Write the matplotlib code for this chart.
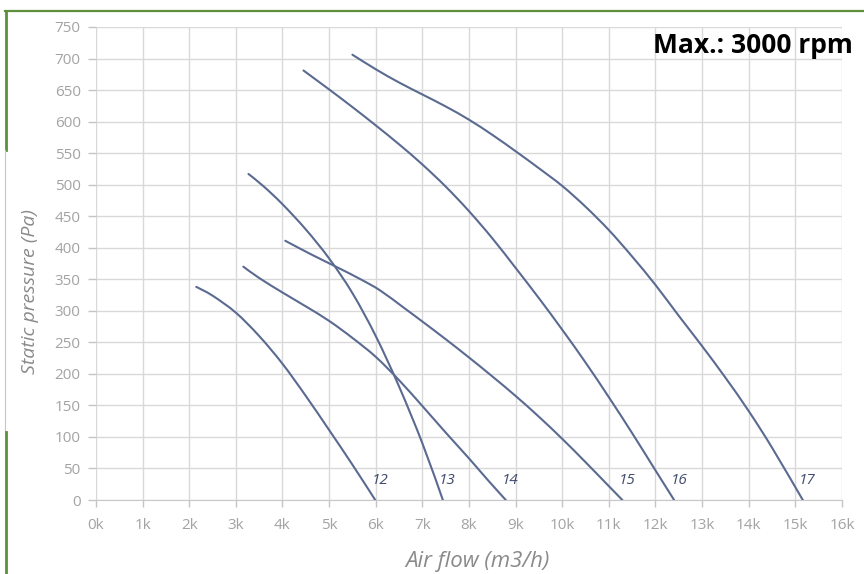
import matplotlib
matplotlib.use("Agg")
import numpy as np
import matplotlib.pyplot as plt
from matplotlib.lines import Line2D
from matplotlib.path import Path
from matplotlib.patches import PathPatch

# DATA (air flow in k m3/h, static pressure in Pa)
curve_names = ["12", "13", "14", "15", "16", "17"]

flow_12 = [2.15, 2.5, 3.0, 3.5, 4.0, 4.5, 5.0, 5.5, 5.99]
pres_12 = [338, 324, 297, 260, 216, 165, 111, 56, 0]

flow_13 = [3.27, 3.6, 4.0, 4.5, 5.0, 5.5, 6.0, 6.5, 7.0, 7.44]
pres_13 = [517, 497, 469, 429, 383, 328, 260, 180, 90, 0]

flow_14 = [3.16, 3.5, 4.0, 4.5, 5.0, 5.5, 6.0, 6.5, 7.0, 7.5, 8.0, 8.4, 8.79]
pres_14 = [370, 352, 329, 307, 284, 257, 227, 190, 149, 107, 66, 32, 0]

flow_15 = [4.06, 4.6, 5.2, 5.7, 6.1, 6.6, 7.0, 7.5, 8.0, 8.5, 9.0, 9.5, 10.0, 10.5, 11.0, 11.29]
pres_15 = [411, 390, 368, 349, 332, 305, 283, 255, 226, 196, 165, 132, 97, 60, 22, 0]

flow_16 = [4.45, 5.0, 5.5, 6.0, 6.5, 7.0, 7.5, 8.0, 8.5, 9.0, 9.5, 10.0, 10.5, 11.0, 11.5, 12.0, 12.4]
pres_16 = [681, 651, 623, 594, 564, 532, 497, 458, 415, 368, 320, 270, 218, 163, 106, 47, 0]

flow_17 = [5.5, 6.0, 6.5, 7.0, 7.5, 8.0, 8.5, 9.0, 9.5, 10.0, 10.5, 11.0, 11.5, 12.0, 12.5, 13.0, 13.5, 14.0, 14.5, 15.16]
pres_17 = [706, 683, 662, 643, 624, 603, 579, 553, 526, 498, 465, 428, 386, 341, 292, 244, 194, 141, 83, 0]

x_ticks = list(range(0, 17))
x_tick_labels = [f"{k}k" for k in x_ticks]
y_ticks = list(range(0, 751, 50))

FONT = "Open Sans"
LINE_COLOR = "#5a6a91"
GRID_COLOR = "#d9d9d9"
TEXT_GRAY = "#8a8a8a"
GREEN = "#5e8f3a"


def smooth_curve(xs, ys):
    # Catmull-Rom through the read points, drawn as cubic bezier segments
    pts = np.column_stack([xs, ys]).astype(float)
    n = len(pts)
    verts = [pts[0]]
    codes = [Path.MOVETO]
    for i in range(n - 1):
        p0 = pts[max(i - 1, 0)]
        p1 = pts[i]
        p2 = pts[i + 1]
        p3 = pts[min(i + 2, n - 1)]
        verts += [p1 + (p2 - p0) / 6, p2 - (p3 - p1) / 6, p2]
        codes += [Path.CURVE4] * 3
    return Path(verts, codes)


fig = plt.figure(figsize=(8.64, 5.74), dpi=100)
ax = fig.add_axes([0.1111, 0.1289, 0.8634, 0.8241])

flows = [flow_12, flow_13, flow_14, flow_15, flow_16, flow_17]
pressures = [pres_12, pres_13, pres_14, pres_15, pres_16, pres_17]

for name, fl, pr in zip(curve_names, flows, pressures):
    ax.add_patch(PathPatch(smooth_curve(fl, pr), fill=False, edgecolor=LINE_COLOR,
                           lw=1.5, capstyle="round", zorder=3))
    ax.text(fl[-1] + 0.1, 31, name, ha="center", va="center",
            fontsize=11, style="italic", color="#3f4b6c", family=FONT, zorder=4)

ax.set_xlim(0, 16)
ax.set_ylim(0, 750)
ax.set_xticks(x_ticks)
ax.set_xticklabels(x_tick_labels)
ax.set_yticks(y_ticks)

ax.grid(True, color=GRID_COLOR, lw=1.0)
ax.set_axisbelow(True)
for side in ["top", "right", "left"]:
    ax.spines[side].set_visible(False)
ax.spines["bottom"].set_color("#c8c8c8")
ax.tick_params(axis="both", colors="#c4c4c4", length=6, width=1.0,
               labelcolor="#a3a3a3", labelsize=11)
ax.tick_params(axis="y", pad=5)
ax.tick_params(axis="x", length=5, pad=8)
for lbl in ax.get_xticklabels() + ax.get_yticklabels():
    lbl.set_family(FONT)

fig.text(477 / 864, 1 - 561 / 574, "Air flow (m3/h)", ha="center", va="center",
         fontsize=16, style="italic", color=TEXT_GRAY, family=FONT)
fig.text(30 / 864, 1 - 292 / 574, "Static pressure (Pa)", ha="center", va="center",
         rotation=90, fontsize=14, style="italic", color=TEXT_GRAY, family=FONT)

fig.text(853 / 864, 1 - 53 / 574, "Max.: 3000 rpm", ha="right", va="baseline",
         fontsize=19, fontweight="bold", color="black", family=FONT)

# green frame pieces (figure pixel coords)
W, H = 864, 574
def px_line(x0, y0, x1, y1, lw, color):
    fig.add_artist(Line2D([x0 / W, x1 / W], [1 - y0 / H, 1 - y1 / H],
                          transform=fig.transFigure, color=color, lw=lw))

px_line(5, 11, W, 11, 1.6, GREEN)
px_line(5.5, 11, 5.5, 150, 2.0, GREEN)
px_line(4.5, 150, 4.5, 432, 0.8, "#b9d3a4")
px_line(5.5, 432, 5.5, H, 2.0, GREEN)

fig.savefig("out.png", dpi=100)
